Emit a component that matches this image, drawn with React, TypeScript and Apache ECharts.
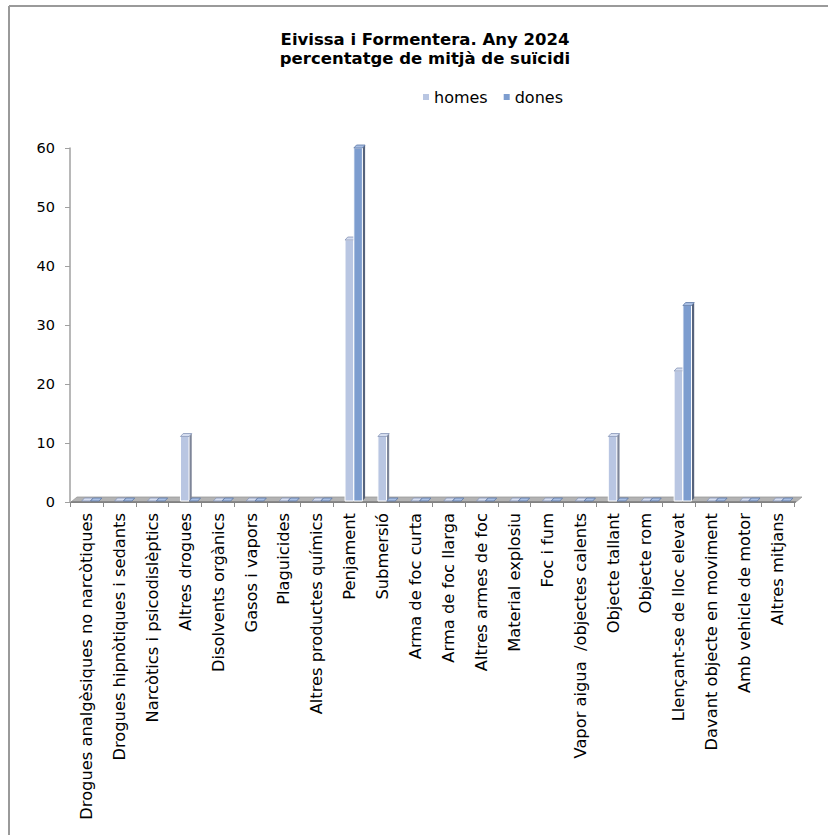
import React, { useEffect, useRef } from "react";
import * as echarts from "echarts";

const categories: string[] = [
  "Drogues analgèsiques no narcòtiques",
  "Drogues hipnòtiques i sedants",
  "Narcòtics i psicodislèptics",
  "Altres drogues",
  "Disolvents orgànics",
  "Gasos i vapors",
  "Plaguicides",
  "Altres productes químics",
  "Penjament",
  "Submersió",
  "Arma de foc curta",
  "Arma de foc llarga",
  "Altres armes de foc",
  "Material explosiu",
  "Foc i fum",
  "Vapor aigua  /objectes calents",
  "Objecte tallant",
  "Objecte rom",
  "Llençant-se de lloc elevat",
  "Davant objecte en moviment",
  "Amb vehicle de motor",
  "Altres mitjans",
];

const homes: number[] = [0, 0, 0, 11.1, 0, 0, 0, 0, 44.4, 11.1, 0, 0, 0, 0, 0, 0, 11.1, 0, 22.2, 0, 0, 0];
const dones: number[] = [0, 0, 0, 0, 0, 0, 0, 0, 60, 0, 0, 0, 0, 0, 0, 0, 0, 0, 33.3, 0, 0, 0];

const seriesNames: string[] = ["homes", "dones"];
const yTicks = { min: 0, max: 60, interval: 10 };

const FONT = "DejaVu Sans";

const palette = [
  { front: "#b9c6e2", side: "#7e8699", top: "#d5ddef", stroke: "#8796b8" },
  { front: "#7d9dcf", side: "#56637c", top: "#a9bfe3", stroke: "#5c77a6" },
];

function bar3D(si: number) {
  return (params: any, api: any) => {
    const idx = api.value(0);
    const v = api.value(1);
    const base = api.coord([idx, 0]);
    const tp = api.coord([idx, v]);
    const band = api.size([1, 0])[0];
    const bw = band * 0.26;
    const x0 = base[0] - band / 2 + band * (si === 0 ? 0.357 : 0.625);
    const x1 = x0 + bw;
    const dx = 2.7;
    const dy = 3;
    const yb = base[1] - 1;
    const yt = Math.min(tp[1], yb);
    const c = palette[si];
    const children: any[] = [];
    if (v > 0) {
      children.push({
        type: "polygon",
        shape: { points: [[x1, yb], [x1 + dx, yb - dy], [x1 + dx, yt - dy], [x1, yt]] },
        style: { fill: c.side },
      });
      children.push({
        type: "rect",
        shape: { x: x0, y: yt, width: bw, height: yb - yt },
        style: { fill: c.front, stroke: "#ffffff", lineWidth: 1 },
      });
    }
    children.push({
      type: "polygon",
      shape: { points: [[x0, yt], [x1, yt], [x1 + dx, yt - dy], [x0 + dx, yt - dy]] },
      style: { fill: c.top, stroke: c.stroke, lineWidth: 0.8 },
    });
    return { type: "group", children };
  };
}

function floor(params: any, api: any) {
  const band = api.size([1, 0])[0];
  const first = api.coord([0, 0]);
  const last = api.coord([categories.length - 1, 0]);
  const xl = first[0] - band / 2 + 1;
  const xr = last[0] + band / 2 + 2;
  const y = first[1];
  const ddx = 6;
  const ddy = 5;
  return {
    type: "group",
    children: [
      {
        type: "polygon",
        shape: { points: [[xl, y], [xr, y], [xr + ddx, y - ddy], [xl + ddx, y - ddy]] },
        style: { fill: "#b3b3b3", stroke: "#9a9a9a", lineWidth: 0.8 },
      },
      {
        type: "line",
        shape: { x1: xl, y1: y, x2: xr, y2: y },
        style: { stroke: "#7f7f7f", lineWidth: 1.5 },
      },
    ],
  };
}

export default function App() {
  const ref = useRef<HTMLDivElement>(null);
  useEffect(() => {
    if (!ref.current) return;
    const chart = echarts.init(ref.current, undefined, { renderer: "svg" });
    chart.setOption({
      animation: false,
      backgroundColor: "#ffffff",
      title: {
        text: "Eivissa i Formentera. Any 2024\npercentatge de mitjà de suïcidi",
        left: 420,
        top: 25,
        textAlign: "center",
        textStyle: { fontFamily: FONT, fontSize: 16.5, fontWeight: "bold", color: "#000", lineHeight: 19 },
      },
      legend: {
        data: seriesNames.map((n, i) => ({ name: n, icon: "rect", itemStyle: { color: palette[i].front } })),
        left: 418,
        top: 84,
        itemWidth: 6,
        itemHeight: 6,
        itemGap: 16,
        textStyle: { fontFamily: FONT, fontSize: 16, color: "#000", padding: [0, 0, 0, 0] },
      },
      graphic: [
        { type: "line", shape: { x1: 9, y1: 6, x2: 9, y2: 835 }, style: { stroke: "#9a9a9a", lineWidth: 2 } },
        { type: "line", shape: { x1: 9, y1: 6, x2: 828, y2: 6 }, style: { stroke: "#9a9a9a", lineWidth: 2 } },
      ],
      grid: { left: 70, right: 34, top: 148, bottom: 333 },
      xAxis: {
        type: "category",
        data: categories,
        axisLine: { show: true, lineStyle: { color: "#7f7f7f", width: 1 } },
        axisTick: { show: true, interval: 0, length: 5, lineStyle: { color: "#8c8c8c" } },
        axisLabel: { rotate: 90, interval: 0, fontFamily: FONT, fontSize: 16.3, color: "#000", margin: 11 },
      },
      yAxis: {
        type: "value",
        min: yTicks.min,
        max: yTicks.max,
        interval: yTicks.interval,
        axisLine: { show: true, lineStyle: { color: "#a0a0a0", width: 1.5 } },
        axisTick: { show: true, length: 5, lineStyle: { color: "#a0a0a0" } },
        splitLine: { show: false },
        axisLabel: { fontFamily: FONT, fontSize: 14.5, color: "#000", margin: 15 },
      },
      series: [
        {
          name: "floor",
          type: "custom",
          renderItem: floor,
          data: [[0, 0]],
          silent: true,
          clip: false,
          z: 1,
          legendHoverLink: false,
        },
        ...seriesNames.map((n, si) => ({
          name: n,
          type: "custom",
          renderItem: bar3D(si),
          data: (si === 0 ? homes : dones).map((v, i) => [i, v]),
          encode: { x: 0, y: 1 },
          clip: false,
          z: 2,
          itemStyle: { color: palette[si].front },
        })),
      ],
    });
    return () => chart.dispose();
  }, []);
  return <div ref={ref} style={{ position: "absolute", left: 0, top: 0, width: 828, height: 835 }} />;
}
